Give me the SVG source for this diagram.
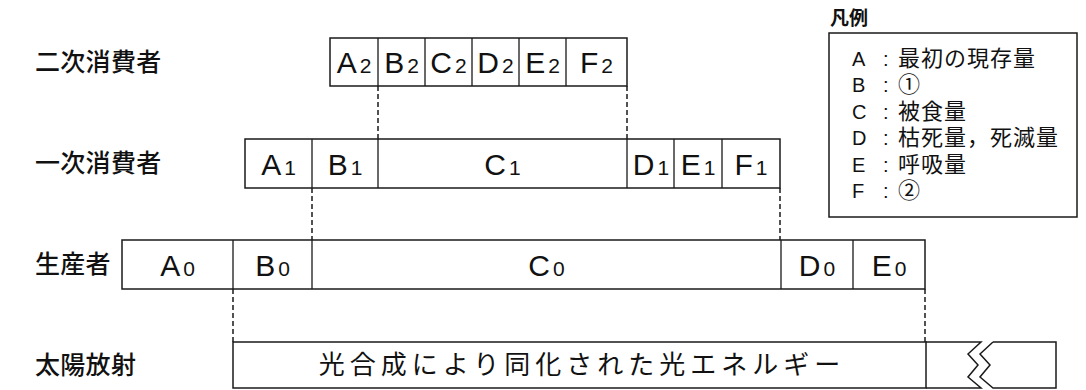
<svg xmlns="http://www.w3.org/2000/svg" width="1086" height="390" viewBox="0 0 1086 390">
<style>
.bx{fill:none;stroke:#1a1a1a;stroke-width:1.5}
.dv{stroke:#1a1a1a;stroke-width:1.3}
.dash{stroke:#1a1a1a;stroke-width:1.5;stroke-dasharray:5 3;fill:none}
.lt{font-family:"Liberation Sans",Arial,sans-serif;font-size:30px;fill:#111;text-anchor:middle}
.sb{font-size:21px}
.lab{font-family:"Noto Sans CJK JP","Noto Sans CJK SC",sans-serif;font-size:25px;font-weight:500;fill:#111;letter-spacing:0.3px}
.lg{font-family:"Liberation Sans","Noto Sans CJK JP",sans-serif;font-size:20px;fill:#111}
.lgj{font-family:"Noto Sans CJK JP",sans-serif;font-size:22px;fill:#111;letter-spacing:1px}
</style>
<rect width="1086" height="390" fill="#fff"/>
<g id="labels">
<text class="lab" x="35" y="71">二次消費者</text>
<text class="lab" x="35" y="172">一次消費者</text>
<text class="lab" x="35" y="273">生産者</text>
<text class="lab" x="35" y="374">太陽放射</text>
</g>
<g id="secondary">
<rect class="bx" x="330" y="38" width="297" height="48"/>
<path class="dv" d="M378 38V86M425 38V86M472 38V86M519 38V86M566 38V86"/>
<text class="lt" x="354" y="73">A<tspan class="sb" dx="3">2</tspan></text>
<text class="lt" x="401.5" y="73">B<tspan class="sb" dx="3">2</tspan></text>
<text class="lt" x="448.5" y="73">C<tspan class="sb" dx="3">2</tspan></text>
<text class="lt" x="495.5" y="73">D<tspan class="sb" dx="3">2</tspan></text>
<text class="lt" x="542.5" y="73">E<tspan class="sb" dx="3">2</tspan></text>
<text class="lt" x="596.5" y="73">F<tspan class="sb" dx="3">2</tspan></text>
</g>
<g id="primary">
<rect class="bx" x="245" y="139" width="535" height="49"/>
<path class="dv" d="M312 139V188M378 139V188M627 139V188M674 139V188M722 139V188"/>
<text class="lt" x="278.5" y="175">A<tspan class="sb" dx="3">1</tspan></text>
<text class="lt" x="345" y="175">B<tspan class="sb" dx="3">1</tspan></text>
<text class="lt" x="502.5" y="175">C<tspan class="sb" dx="3">1</tspan></text>
<text class="lt" x="651" y="175">D<tspan class="sb" dx="3">1</tspan></text>
<text class="lt" x="698" y="175">E<tspan class="sb" dx="3">1</tspan></text>
<text class="lt" x="751" y="175">F<tspan class="sb" dx="3">1</tspan></text>
</g>
<g id="producer">
<rect class="bx" x="122" y="240" width="803" height="49"/>
<path class="dv" d="M233 240V289M312 240V289M781 240V289M853 240V289"/>
<text class="lt" x="177.5" y="276">A<tspan class="sb" dx="3">0</tspan></text>
<text class="lt" x="272.5" y="276">B<tspan class="sb" dx="3">0</tspan></text>
<text class="lt" x="546.5" y="276">C<tspan class="sb" dx="3">0</tspan></text>
<text class="lt" x="817" y="276">D<tspan class="sb" dx="3">0</tspan></text>
<text class="lt" x="889" y="276">E<tspan class="sb" dx="3">0</tspan></text>
</g>
<g id="solar">
<rect class="bx" x="233" y="342" width="693" height="46"/>
<text class="lab" x="582" y="374" text-anchor="middle" style="letter-spacing:5px;font-size:26px;font-weight:400">光合成により同化された光エネルギー</text>
<path class="bx" d="M926 342H981L968 354L978 365L968 377L981 388H926M993 342L980 354L990 365L980 377L993 388H1056V342H993"/>
</g>
<g id="connectors">
<path class="dash" d="M378 86V139M627 86V139M312 188V240M780 188V240M233 289V342M925 289V342"/>
</g>
<g id="legend">
<text class="lgj" x="830" y="25" style="font-size:19px;font-weight:bold;letter-spacing:0">凡例</text>
<rect class="bx" x="829" y="33" width="248" height="184"/>
<text class="lg"><tspan x="852" y="66">A</tspan><tspan x="883" y="66">:</tspan><tspan class="lgj" x="898" y="66">最初の現存量</tspan><tspan x="852" y="92">B</tspan><tspan x="883" y="92">:</tspan><tspan class="lgj" x="898" y="92">①</tspan><tspan x="852" y="119">C</tspan><tspan x="883" y="119">:</tspan><tspan class="lgj" x="898" y="119">被食量</tspan><tspan x="852" y="145">D</tspan><tspan x="883" y="145">:</tspan><tspan class="lgj" x="898" y="145">枯死量，死滅量</tspan><tspan x="852" y="172">E</tspan><tspan x="883" y="172">:</tspan><tspan class="lgj" x="898" y="172">呼吸量</tspan><tspan x="852" y="198">F</tspan><tspan x="883" y="198">:</tspan><tspan class="lgj" x="898" y="198">②</tspan></text>
</g>
</svg>
